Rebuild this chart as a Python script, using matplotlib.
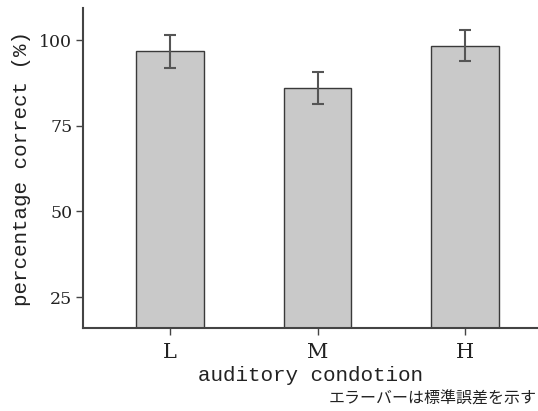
import matplotlib.pyplot as plt

conditions = ['L', 'M', 'H']
correct = [96.7, 86.0, 98.4]
std_err = [4.7, 4.7, 4.6]
y_ticks = [25, 50, 75, 100]

plt.rcParams['font.family'] = ['DejaVu Serif']

fig = plt.figure(figsize=(5.38, 4.11), dpi=100)
ax = fig.add_axes([0.155, 0.202, 0.843, 0.778])

x = list(range(len(conditions)))
ax.bar(x, correct, width=0.46, color='#c9c9c9', edgecolor='#3a3a3a',
       linewidth=1.0, bottom=0)
ax.errorbar(x, correct, yerr=std_err, fmt='none', ecolor='#555555',
            elinewidth=1.5, capsize=4.5, capthick=1.5)

ax.set_xlim(-0.59, 2.49)
ax.set_ylim(16, 109.3)
ax.set_xticks(x)
ax.set_xticklabels(conditions, fontsize=15)
ax.set_yticks(y_ticks)
ax.set_yticklabels([str(v) for v in y_ticks], fontsize=12.5)

for side in ['top', 'right']:
    ax.spines[side].set_visible(False)
for side in ['left', 'bottom']:
    ax.spines[side].set_color('#444444')
    ax.spines[side].set_linewidth(1.5)
ax.tick_params(axis='both', colors='#444444', length=5, width=1.0,
               labelcolor='#222222')
ax.tick_params(axis='y', pad=3)
ax.tick_params(axis='x', pad=6)

# monospaced serif gives the wide letter spacing of the original labels
ax.set_ylabel('percentage correct (%)', fontsize=15, color='#222222',
              labelpad=6, family=['Liberation Mono'])
ax.set_xlabel('auditory condotion', fontsize=15, color='#222222',
              labelpad=3, family=['Liberation Mono'])

fig.text(0.998, 0.03, 'エラーバーは標準誤差を示す', ha='right', va='center',
         fontsize=11.5, color='#222222', family=['Noto Sans CJK JP'])

fig.savefig('out.png', dpi=100)
